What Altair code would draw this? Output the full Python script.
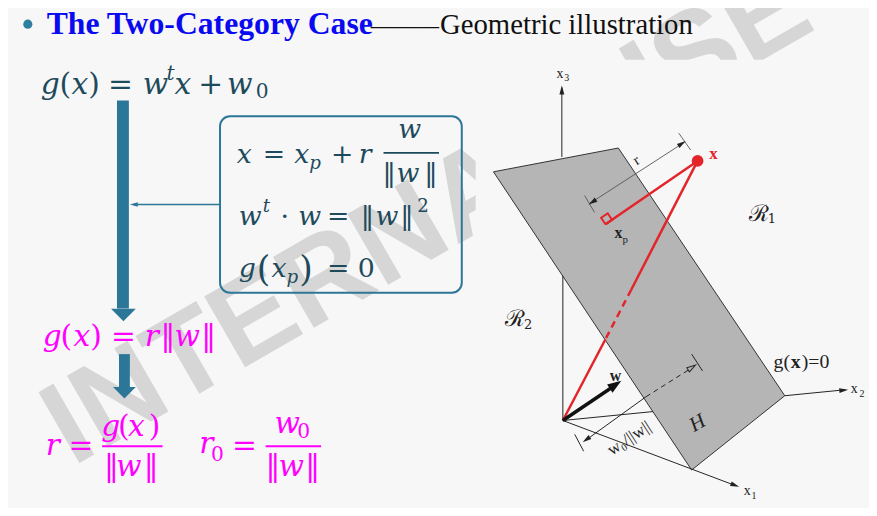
import math
import pandas as pd
import altair as alt

BG = "#f7f7f7"
TEAL = "#2c7798"
INK = "#1e4b5c"
PINK = "#ff00ff"
RED = "#e3242b"
DARK = "#222222"

# ---------------- slide text ----------------
title_bold = "The Two-Category Case"
title_dash = "———"
title_rest = "Geometric illustration"
watermark = [("INTERNAL", 73, 469), ("USE", 612, 149)]

# math tokens: (text, x, baseline, role)  role: i=italic, n=upright, si/sn=small, bn=big
eq_main = [("g", 41, 92, "i"), ("(", 60, 92, "n"), ("x", 72, 92, "i"), (")", 89, 92, "n"),
           ("=", 109, 92, "n"), ("w", 144, 92, "i"), ("t", 168, 78, "si"), ("x", 176, 92, "i"),
           ("+", 200, 92, "n"), ("w", 229, 92, "i"), ("0", 258, 97, "sn")]
box_l1 = [("x", 239, 162, "i"), ("=", 265, 162, "n"), ("x", 297, 162, "i"), ("p", 312, 168, "si"),
          ("+", 334, 162, "n"), ("r", 362, 162, "i"), ("w", 402, 137, "i"),
          ("‖", 386, 181, "n"), ("w", 400, 181, "i"), ("‖", 428, 181, "n")]
box_l2 = [("w", 241, 225, "i"), ("t", 265, 212, "si"), ("·", 283, 225, "n"), ("w", 301, 225, "i"),
          ("=", 330, 225, "n"), ("‖", 364, 225, "n"), ("w", 379, 225, "i"), ("‖", 404, 225, "n"),
          ("2", 421, 212, "sn")]
box_l3 = [("g", 241, 277, "i"), ("(", 259, 281, "bn"), ("x", 274, 277, "i"), ("p", 289, 283, "si"),
          (")", 302, 281, "bn"), ("=", 330, 277, "n"), ("0", 361, 277, "n")]
mag_l1 = [("g", 43, 347, "i"), ("(", 61, 347, "n"), ("x", 74, 347, "i"), (")", 91, 347, "n"),
          ("=", 112, 347, "n"), ("r", 146, 347, "i"), ("‖", 162, 347, "n"), ("w", 176, 347, "i"),
          ("‖", 203, 347, "n")]
mag_l2 = [("r", 46, 457, "i"), ("=", 69, 457, "n"),
          ("g", 102, 438, "i"), ("(", 119, 438, "n"), ("x", 129, 438, "i"), (")", 150, 438, "n"),
          ("‖", 105, 478, "n"), ("w", 117, 478, "i"), ("‖", 145, 478, "n"),
          ("r", 201, 455, "i"), ("0", 213, 463, "sn"), ("=", 234, 457, "n"),
          ("w", 277, 435, "i"), ("0", 300, 440, "sn"),
          ("‖", 268, 478, "n"), ("w", 281, 478, "i"), ("‖", 308, 478, "n")]
frac_bars = [(387, 443, 152, INK), (103, 164, 448, PINK), (268, 324, 448, PINK)]

# ---------------- flow arrows / box ----------------
shafts = [(118, 130, 99, 309), (120, 131, 355, 389)]
heads = [(124.5, 315.5, 625), (125.5, 394, 529)]
box = [(222, 466, 115, 293)]

# ---------------- 3-D figure ----------------
plane = [(498, 171), (624, 147), (792, 397), (698, 472), (498, 171)]
thin_lines = [(567, 156, 567, 86), (568, 276, 568, 422), (568, 422, 743, 488),
              (792, 397, 853, 391), (568, 422, 659, 413), (652, 398, 591, 442),
              (580, 436, 589, 453), (698, 355, 709, 372)]
dim_r = [(595, 203, 691, 141), (590, 195, 600, 212), (685, 132, 697, 149)]
dashed_black = [(652, 398, 698, 369)]
red_solid = [(704, 160, 611, 224), (704, 160, 637, 290), (611, 340, 568, 422)]
red_dashed = [(637, 290, 611, 340)]
right_angle = [(611, 224), (617.7, 219.6), (613.3, 212.9), (606.6, 217.3), (611, 224)]
point_x = [(704, 160)]
w_arrow = [(568, 422, 617, 389)]
# arrowheads: (from_x, from_y, tip_x, tip_y)
heads_small = [(567, 156, 567, 84), (568, 422, 746, 489), (792, 397, 856, 391),
               (652, 398, 588, 444), (595, 203, 692, 140), (691, 141, 594, 204),
               (222, 204, 131, 204)]
heads_open = [(652, 398, 702, 366)]
heads_w = [(568, 422, 627, 382)]

labels_plain = [("x", 565, 72, 14), ("3", 572, 76, 10), ("x", 754, 493, 14), ("1", 761, 498, 10),
                ("x", 862, 390, 14), ("2", 870, 395, 10), ("g(", 789, 363, 20), (")=0", 823, 363, 20)]
labels_bold = [("x", 720, 153, 17, RED), ("x", 624, 233, 16, DARK), ("w", 621, 377, 16, DARK),
               ("x", 803, 363, 20, DARK)]
labels_small_bold = [("p", 631, 240, 11)]
labels_script = [("ℛ", 766, 214, 23), ("1", 779, 219, 13), ("ℛ", 520, 320, 23), ("2", 533, 326, 13)]
labels_rot = [("r", 642, 159, 15, 327, "normal"), ("w₀/||w||", 635, 440, 17, 327, "normal"),
              ("H", 704, 425, 21, 330, "italic")]

# ---------------- helpers ----------------
XS = alt.Scale(domain=[8, 869], nice=False, zero=False)
YS = alt.Scale(domain=[8, 508], nice=False, zero=False, reverse=True)


def X(f="x"):
    return alt.X(f"{f}:Q", scale=XS, axis=None)


def Y(f="y"):
    return alt.Y(f"{f}:Q", scale=YS, axis=None)


def segs(rows):
    return pd.DataFrame(rows, columns=["x", "y", "x2", "y2"])


def rules(rows, **kw):
    return alt.Chart(segs(rows)).mark_rule(**kw).encode(
        x=X(), y=Y(), x2=alt.X2("x2:Q"), y2=alt.Y2("y2:Q"))


def poly(pts, **kw):
    df = pd.DataFrame(pts, columns=["x", "y"])
    df["i"] = range(len(df))
    return alt.Chart(df).mark_line(**kw).encode(x=X(), y=Y(), order="i:Q")


def arrowheads(rows, size, shape, **kw):
    out = []
    half = math.sqrt(size) / 2
    for fx, fy, tx, ty in rows:
        dx, dy = tx - fx, ty - fy
        n = math.hypot(dx, dy)
        ang = math.degrees(math.atan2(dx, -dy)) % 360
        out.append({"x": tx - dx / n * half, "y": ty - dy / n * half, "a": ang})
    return alt.Chart(pd.DataFrame(out)).mark_point(shape=shape, size=size, **kw).encode(
        x=X(), y=Y(), angle=alt.Angle("a:Q", scale=None))


factor = {"i": 1.0, "n": 1.0, "si": 0.68, "sn": 0.68, "bn": 1.3}
rows = []
for toks, base, col in [(eq_main, 30, INK), (box_l1, 27, INK), (box_l2, 27, INK), (box_l3, 27, INK),
                        (mag_l1, 30, PINK), (mag_l2, 30, PINK)]:
    for t, x, y, role in toks:
        rows.append({"t": t, "x": x, "y": y, "fs": base * factor[role], "c": col,
                     "it": role in ("i", "si")})
math_df = pd.DataFrame(rows)


def math_text(italic):
    d = math_df[math_df["it"] == italic]
    return alt.Chart(d).mark_text(
        align="left", baseline="alphabetic", font="DejaVu Serif",
        fontStyle="italic" if italic else "normal").encode(
        x=X(), y=Y(), text="t:N", size=alt.Size("fs:Q", scale=None),
        color=alt.Color("c:N", scale=None))


layers = []

# watermark behind everything, then the picture area covers it
wm = pd.DataFrame(watermark, columns=["t", "x", "y"])
layers.append(alt.Chart(wm).mark_text(
    angle=330, align="left", baseline="alphabetic", font="Liberation Sans",
    fontWeight="bold", fontSize=120, color="#d6d6d6").encode(x=X(), y=Y(), text="t:N"))
layers.append(alt.Chart(pd.DataFrame([(480, 877, 58, 520)], columns=["x", "x2", "y", "y2"]))
              .mark_rect(color=BG).encode(x=X(), x2="x2:Q", y=Y(), y2="y2:Q"))

# title
layers.append(alt.Chart(pd.DataFrame({"x": [28], "y": [22]})).mark_circle(
    size=85, color="#2e7fa0", opacity=1).encode(x=X(), y=Y()))
layers.append(alt.Chart(pd.DataFrame({"t": [title_bold], "x": [47], "y": [32]})).mark_text(
    align="left", baseline="alphabetic", font="Liberation Serif", fontWeight="bold",
    fontSize=32, color="#0a0af0").encode(x=X(), y=Y(), text="t:N"))
layers.append(alt.Chart(pd.DataFrame({"t": [title_dash], "x": [374], "y": [31]})).mark_text(
    align="left", baseline="alphabetic", font="Liberation Serif", fontSize=23,
    color="#111111").encode(x=X(), y=Y(), text="t:N"))
layers.append(alt.Chart(pd.DataFrame({"t": [title_rest], "x": [444], "y": [32]})).mark_text(
    align="left", baseline="alphabetic", font="Liberation Serif", fontSize=29,
    color="#111111").encode(x=X(), y=Y(), text="t:N"))

# flow arrows and box
layers.append(alt.Chart(pd.DataFrame(shafts, columns=["x", "x2", "y", "y2"])).mark_rect(
    color=TEAL).encode(x=X(), x2="x2:Q", y=Y(), y2="y2:Q"))
layers.append(alt.Chart(pd.DataFrame(heads, columns=["x", "y", "s"])).mark_point(
    shape="M-1,-0.5L1,-0.5L0,0.5Z", filled=True, color=TEAL, opacity=1).encode(
    x=X(), y=Y(), size=alt.Size("s:Q", scale=None)))
layers.append(alt.Chart(pd.DataFrame(box, columns=["x", "x2", "y", "y2"])).mark_rect(
    fillOpacity=0, stroke=TEAL, strokeWidth=2, cornerRadius=10).encode(
    x=X(), x2="x2:Q", y=Y(), y2="y2:Q"))
layers.append(rules([(222, 204, 135, 204)], color=TEAL, strokeWidth=1.5))

# formulas
layers.append(math_text(True))
layers.append(math_text(False))
fb = pd.DataFrame(frac_bars, columns=["x", "x2", "y", "c"])
layers.append(alt.Chart(fb).mark_rule(strokeWidth=1.8).encode(
    x=X(), x2="x2:Q", y=Y(), color=alt.Color("c:N", scale=None)))

# 3-D figure
layers.append(poly(plane, fill="#b5b5b5", stroke="#333333", strokeWidth=1))
layers.append(rules(thin_lines, color=DARK, strokeWidth=1))
layers.append(rules(dim_r, color="#555555", strokeWidth=0.9))
layers.append(rules(dashed_black, color=DARK, strokeWidth=1, strokeDash=[5, 4]))
layers.append(rules(red_solid, color=RED, strokeWidth=2.5))
layers.append(rules(red_dashed, color=RED, strokeWidth=2.5, strokeDash=[7, 5]))
layers.append(poly(right_angle, color=RED, strokeWidth=2))
layers.append(alt.Chart(pd.DataFrame(point_x, columns=["x", "y"])).mark_circle(
    size=140, color=RED, opacity=1).encode(x=X(), y=Y()))
layers.append(rules(w_arrow, color="#111111", strokeWidth=3.5))

arrow = "M0,-1L0.55,1L-0.55,1Z"
layers.append(arrowheads(heads_small[:-1], 81, arrow, filled=True, color=DARK, opacity=1))
layers.append(arrowheads(heads_small[-1:], 64, arrow, filled=True, color=TEAL, opacity=1))
layers.append(arrowheads(heads_open, 81, arrow, filled=False, color=DARK, strokeWidth=1, opacity=1))
layers.append(arrowheads(heads_w, 196, "M0,-1L0.7,1L-0.7,1Z", filled=True, color="#111111", opacity=1))

lp = pd.DataFrame(labels_plain, columns=["t", "x", "y", "fs"])
layers.append(alt.Chart(lp).mark_text(font="Liberation Serif", color=DARK, baseline="middle").encode(
    x=X(), y=Y(), text="t:N", size=alt.Size("fs:Q", scale=None)))
lb = pd.DataFrame(labels_bold, columns=["t", "x", "y", "fs", "c"])
layers.append(alt.Chart(lb).mark_text(font="Liberation Serif", fontWeight="bold", baseline="middle").encode(
    x=X(), y=Y(), text="t:N", size=alt.Size("fs:Q", scale=None), color=alt.Color("c:N", scale=None)))
lsb = pd.DataFrame(labels_small_bold, columns=["t", "x", "y", "fs"])
layers.append(alt.Chart(lsb).mark_text(font="Liberation Serif", color=DARK, baseline="middle").encode(
    x=X(), y=Y(), text="t:N", size=alt.Size("fs:Q", scale=None)))
ls = pd.DataFrame(labels_script, columns=["t", "x", "y", "fs"])
layers.append(alt.Chart(ls).mark_text(font="DejaVu Serif", color=DARK, baseline="middle").encode(
    x=X(), y=Y(), text="t:N", size=alt.Size("fs:Q", scale=None)))
for t, x, y, fs, ang, style in labels_rot:
    layers.append(alt.Chart(pd.DataFrame({"t": [t], "x": [x], "y": [y]})).mark_text(
        font="Liberation Serif", fontSize=fs, angle=ang, fontStyle=style, color=DARK,
        baseline="middle").encode(x=X(), y=Y(), text="t:N"))

chart = alt.layer(*layers).properties(
    width=861, height=500, background=BG, autosize="none",
    padding={"left": 0, "top": 0, "right": 8, "bottom": 0},
).configure_view(stroke=None)

chart.save("out.html", embed_options={"renderer": "svg", "actions": False})
